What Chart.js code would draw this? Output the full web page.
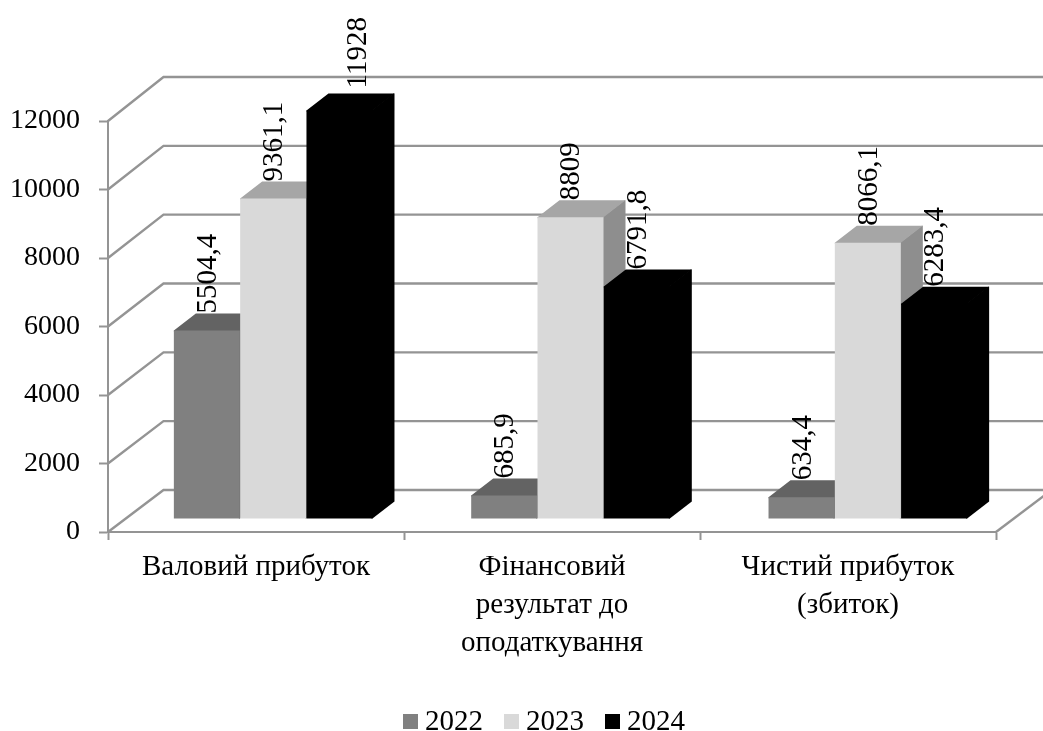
<!DOCTYPE html>
<html>
<head>
<meta charset="utf-8">
<style>
  html, body { margin: 0; padding: 0; background: #ffffff; }
  canvas { display: block; }
</style>
<script src="https://cdn.jsdelivr.net/npm/chart.js@4/dist/chart.umd.min.js"></script>
</head>
<body>
<canvas id="chart" width="1043" height="731"></canvas>
<script>
const categories = [
  'Валовий прибуток',
  ['Фінансовий', 'результат до', 'оподаткування'],
  ['Чистий прибуток', '(збиток)']
];
const years = ['2022', '2023', '2024'];
const values2022 = [5504.4, 685.9, 634.4];
const values2023 = [9361.1, 8809, 8066.1];
const values2024 = [11928, 6791.8, 6283.4];
const series = [values2022, values2023, values2024];
const frontColors = ['#808080', '#d9d9d9', '#000000'];
const topColors = ['#636363', '#a6a6a6', '#000000'];
const sideColors = ['#5a5a5a', '#8e8e8e', '#000000'];

const FONT = '"Liberation Serif", "Times New Roman", serif';
const FONT_SIZE = 29;
const AXIS_GREY = '#949494';
const WALL = { dx: 55.5, dyFloor: -42, dyTop: -44 };  // depth from the front axis to the back wall
const PLANE = { dx: 16.5, dy: -13, spread: 0.0045 };  // where the bars stand on the floor
const BAR = { dx: 22, dy: -17 };                      // depth of a single bar
const LABEL_NUDGE = { '2:0': { x: 18, y: -5 } };      // the tallest label sits to the right of its bar

function fmt(v) { return String(v).replace('.', ','); }

function planeShift(chart, x) {
  return PLANE.dx + (x - chart.chartArea.left) * PLANE.spread;
}

const walls3d = {
  id: 'walls3d',
  beforeDatasetsDraw(chart) {
    const { ctx, chartArea, scales } = chart;
    const span = chartArea.bottom - chartArea.top;
    ctx.save();
    ctx.strokeStyle = AXIS_GREY;
    ctx.lineWidth = 2.4;
    scales.y.ticks.forEach(t => {
      const y = scales.y.getPixelForValue(t.value);
      const back = y + WALL.dyFloor + (WALL.dyTop - WALL.dyFloor) * (chartArea.bottom - y) / span;
      ctx.beginPath();
      ctx.moveTo(chartArea.left, y);
      ctx.lineTo(chartArea.left + WALL.dx, back);
      ctx.lineTo(chartArea.right + WALL.dx, back);
      ctx.stroke();
    });
    ctx.beginPath();
    ctx.moveTo(chartArea.right, chartArea.bottom);
    ctx.lineTo(chartArea.right + WALL.dx, chartArea.bottom + WALL.dyFloor);
    ctx.stroke();
    ctx.restore();
  }
};

// Bars are painted series by series, left to right, each with its side and top faces.
const bars3d = {
  id: 'bars3d',
  beforeDatasetsDraw(chart) {
    const { ctx } = chart;
    chart.data.datasets.forEach((ds, i) => {
      chart.getDatasetMeta(i).data.forEach(bar => {
        const { x, y, base, width } = bar.getProps(['x', 'y', 'base', 'width'], true);
        const l = x - width / 2, r = x + width / 2;
        ctx.save();
        ctx.translate(planeShift(chart, x), PLANE.dy);
        // faces run one pixel under their neighbours so no seam shows along the shared edges
        ctx.fillStyle = sideColors[i];
        ctx.beginPath();
        ctx.moveTo(r - 1, y);
        ctx.lineTo(r + BAR.dx - 1, y + BAR.dy);
        ctx.lineTo(r + BAR.dx, y + BAR.dy);
        ctx.lineTo(r + BAR.dx, base + BAR.dy);
        ctx.lineTo(r, base);
        ctx.lineTo(r - 1, base);
        ctx.closePath();
        ctx.fill();
        ctx.fillStyle = topColors[i];
        ctx.beginPath();
        ctx.moveTo(l, y + 1);
        ctx.lineTo(l, y);
        ctx.lineTo(l + BAR.dx, y + BAR.dy);
        ctx.lineTo(r + BAR.dx, y + BAR.dy);
        ctx.lineTo(r, y);
        ctx.lineTo(r, y + 1);
        ctx.closePath();
        ctx.fill();
        bar.draw(ctx);
        ctx.restore();
      });
    });
    return false;
  },
  afterDraw(chart) {
    const { ctx } = chart;
    // Vertical value labels, starting at the rear edge of each bar top
    ctx.save();
    ctx.fillStyle = '#000000';
    ctx.font = FONT_SIZE + 'px ' + FONT;
    ctx.textAlign = 'left';
    ctx.textBaseline = 'alphabetic';
    chart.data.datasets.forEach((ds, i) => {
      chart.getDatasetMeta(i).data.forEach((bar, j) => {
        const { x, y } = bar.getProps(['x', 'y'], true);
        const nudge = LABEL_NUDGE[i + ':' + j] || { x: 0, y: 0 };
        ctx.save();
        ctx.translate(x + planeShift(chart, x) + nudge.x + 9, y + PLANE.dy + BAR.dy + nudge.y);
        ctx.rotate(-Math.PI / 2);
        ctx.fillText(fmt(ds.data[j]), 0, 0);
        ctx.restore();
      });
    });
    ctx.restore();

    // Legend row under the plot
    ctx.save();
    ctx.font = FONT_SIZE + 'px ' + FONT;
    ctx.textAlign = 'left';
    ctx.textBaseline = 'alphabetic';
    const box = 15, gap = 7, between = 21;
    let lx = 403;
    years.forEach((t, i) => {
      ctx.fillStyle = frontColors[i];
      ctx.fillRect(lx, 714, box, box);
      ctx.fillStyle = '#000000';
      ctx.fillText(t, lx + box + gap, 730);
      lx += box + gap + ctx.measureText(t).width + between;
    });
    ctx.restore();
  }
};

new Chart(document.getElementById('chart'), {
  type: 'bar',
  data: {
    labels: categories,
    datasets: years.map((y, i) => ({
      label: y,
      data: series[i],
      backgroundColor: frontColors[i],
      borderWidth: 0,
      categoryPercentage: 0.669,
      barPercentage: 1
    }))
  },
  plugins: [walls3d, bars3d],
  options: {
    responsive: false,
    animation: false,
    devicePixelRatio: 1,
    layout: { padding: { left: 0, top: 121, right: 47, bottom: 49 } },
    plugins: { legend: { display: false }, tooltip: { enabled: false }, title: { display: false } },
    scales: {
      x: {
        afterFit(s) { s.height = 150; },
        grid: { drawOnChartArea: false, drawTicks: true, tickLength: 8, tickColor: AXIS_GREY, tickWidth: 2 },
        border: { color: AXIS_GREY, width: 2 },
        ticks: {
          color: '#000000',
          padding: 8,
          maxRotation: 0,
          autoSkip: false,
          font: { family: FONT, size: FONT_SIZE, lineHeight: 1.31 }
        }
      },
      y: {
        min: 0,
        max: 12000,
        afterFit(s) { s.width = 108; },
        grid: { drawOnChartArea: false, drawTicks: true, tickLength: 9, tickColor: AXIS_GREY, tickWidth: 2 },
        border: { color: AXIS_GREY, width: 2 },
        ticks: {
          stepSize: 2000,
          color: '#000000',
          padding: 19,
          callback: v => String(v),
          font: { family: FONT, size: 28 }
        }
      }
    }
  }
});
</script>
</body>
</html>
